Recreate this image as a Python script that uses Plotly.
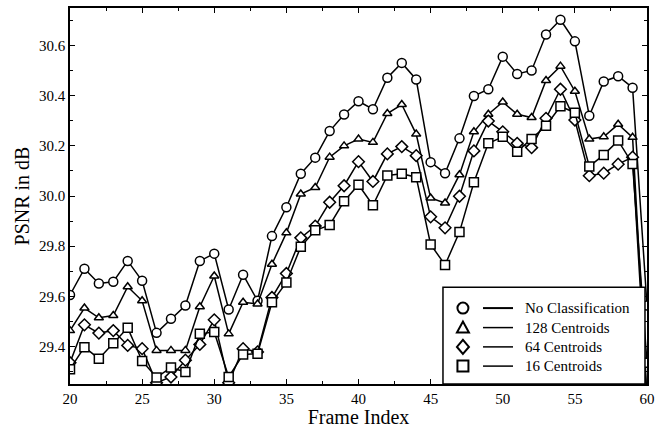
import plotly.graph_objects as go

frames = list(range(20, 61))

no_class = [29.605, 29.71, 29.651, 29.658, 29.741, 29.662, 29.454, 29.51, 29.563, 29.741,
            29.77, 29.547, 29.686, 29.582, 29.84, 29.955, 30.089, 30.153, 30.259, 30.325,
            30.378, 30.346, 30.472, 30.531, 30.465, 30.135, 30.091, 30.23, 30.399, 30.426,
            30.556, 30.487, 30.501, 30.644, 30.703, 30.617, 30.32, 30.457, 30.478, 30.432,
            29.563]
c128 = [29.463, 29.553, 29.514, 29.523, 29.638, 29.582, 29.384, 29.384, 29.384, 29.558,
        29.681, 29.45, 29.576, 29.569, 29.728, 29.853, 30.008, 30.034, 30.155, 30.2,
        30.227, 30.214, 30.329, 30.365, 30.247, 29.992, 29.972, 30.085, 30.256, 30.326,
        30.375, 30.326, 30.313, 30.461, 30.518, 30.418, 30.227, 30.236, 30.286, 30.234,
        29.2]
c64 = [29.335, 29.486, 29.453, 29.463, 29.404, 29.391, 29.255, 29.278, 29.345, 29.408,
       29.506, 29.255, 29.391, 29.378, 29.595, 29.691, 29.833, 29.88, 29.975, 30.041,
       30.137, 30.058, 30.168, 30.197, 30.161, 29.917, 29.873, 29.999, 30.18, 30.299,
       30.256, 30.21, 30.193, 30.31, 30.426, 30.303, 30.081, 30.091, 30.127, 30.155,
       29.18]
c16 = [29.309, 29.397, 29.351, 29.413, 29.474, 29.342, 29.276, 29.316, 29.298, 29.45,
       29.457, 29.278, 29.368, 29.371, 29.576, 29.655, 29.798, 29.863, 29.884, 29.979,
       30.045, 29.963, 30.082, 30.089, 30.075, 29.807, 29.725, 29.856, 30.055, 30.21,
       30.236, 30.177, 30.227, 30.28, 30.358, 30.332, 30.118, 30.164, 30.221, 30.128,
       29.335]

series_names = ["No Classification", "128 Centroids", "64 Centroids", "16 Centroids"]
series_values = [no_class, c128, c64, c16]
symbols = ["circle", "triangle-up", "diamond", "square"]
sizes = [9, 8, 9, 9]

FONT = "Liberation Serif, Times New Roman, serif"

fig = go.Figure()
for name, vals, sym, sz in zip(series_names, series_values, symbols, sizes):
    fig.add_trace(go.Scatter(
        x=frames, y=vals, mode="lines+markers", name=name,
        line=dict(color="black", width=1.5),
        marker=dict(symbol=sym, size=sz, color="white",
                    line=dict(color="black", width=1.5)),
        showlegend=False, cliponaxis=True,
    ))

axis_common = dict(showline=True, linecolor="black", linewidth=1.5, mirror="ticks",
                   ticks="inside", ticklen=5, tickcolor="black", tickwidth=1,
                   showgrid=False, zeroline=False,
                   tickfont=dict(family=FONT, size=15, color="black"))

fig.update_xaxes(range=[20, 60], dtick=5, tick0=20,
                 minor=dict(dtick=2.5, ticks="inside", ticklen=3, tickcolor="black"),
                 title=dict(text="Frame Index", font=dict(family=FONT, size=20, color="black"),
                            standoff=0),
                 **axis_common)
fig.update_yaxes(range=[29.25, 30.75], dtick=0.2, tick0=29.4, tickformat=".1f",
                 minor=dict(dtick=0.1, ticks="inside", ticklen=3, tickcolor="black"),
                 title=dict(text="PSNR in dB", font=dict(family=FONT, size=20, color="black"),
                            standoff=4),
                 **axis_common)

# custom legend (marker, then short line, then text)
shapes = [dict(type="rect", xref="paper", yref="paper", x0=0.6464, x1=0.9965, y0=0.0, y1=0.2574,
               fillcolor="white", line=dict(color="black", width=1.5), layer="above")]
annotations = []
row_y = [0.2019, 0.150, 0.0987, 0.0476]
mx = 0.681
r = 5.5
marker_paths = [
    None,
    "M -6 -5 L 6 -5 L 0 6 Z",
    "M 0 -7 L 6 0 L 0 7 L -6 0 Z",
    "M -5.5 -5.5 L 5.5 -5.5 L 5.5 5.5 L -5.5 5.5 Z",
]
for i, (name, yy) in enumerate(zip(series_names, row_y)):
    if i == 0:
        shapes.append(dict(type="circle", xref="paper", yref="paper", xsizemode="pixel",
                           ysizemode="pixel", xanchor=mx, yanchor=yy, x0=-r, x1=r, y0=-r, y1=r,
                           line=dict(color="black", width=2), fillcolor="white", layer="above"))
    else:
        shapes.append(dict(type="path", xref="paper", yref="paper", xsizemode="pixel",
                           ysizemode="pixel", xanchor=mx, yanchor=yy, path=marker_paths[i],
                           line=dict(color="black", width=2), fillcolor="white", layer="above"))
    shapes.append(dict(type="line", xref="paper", yref="paper", x0=0.7158, x1=0.7678, y0=yy, y1=yy,
                       line=dict(color="black", width=2 if i == 0 else 1.5), layer="above"))
    annotations.append(dict(xref="paper", yref="paper", x=0.785, y=yy, text=name,
                            showarrow=False, xanchor="left", yanchor="middle",
                            font=dict(family=FONT, size=15, color="black")))

fig.update_layout(width=664, height=428,
                  margin=dict(l=70, r=17, t=6, b=44),
                  plot_bgcolor="white", paper_bgcolor="white",
                  shapes=shapes, annotations=annotations,
                  font=dict(family=FONT, color="black"))

fig.write_html("out.html")
